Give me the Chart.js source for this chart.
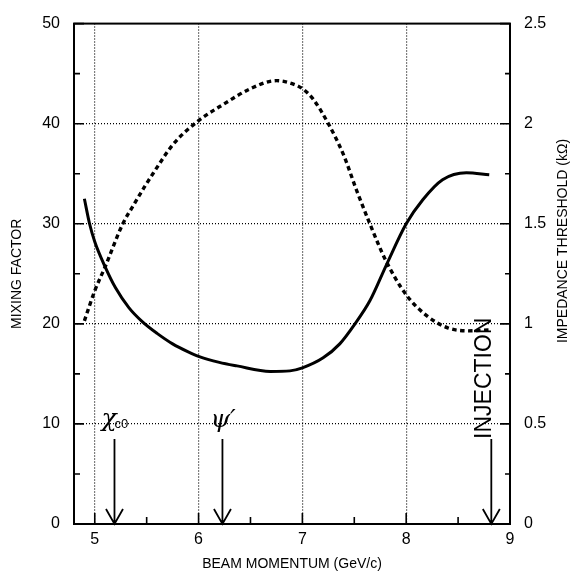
<!DOCTYPE html>
<html>
<head>
<meta charset="utf-8">
<script src="https://cdn.jsdelivr.net/npm/chart.js@4"></script>
<style>
  html, body { margin: 0; padding: 0; background: #fff; }
  #wrap { width: 572px; height: 579px; }
</style>
</head>
<body>
<div id="wrap"><canvas id="c" width="572" height="579"></canvas></div>
<script>
// Tick positions of the three axes
const momentumTicks = [5, 5.5, 6, 6.5, 7, 7.5, 8, 8.5, 9];
const mixingTicks = [0, 5, 10, 15, 20, 25, 30, 35, 40, 45, 50];
const thresholdTicks = [0, 0.25, 0.5, 0.75, 1, 1.25, 1.5, 1.75, 2, 2.25, 2.5];

// Mixing factor versus beam momentum (solid curve, left axis)
const mixMomentum = [4.90, 4.95, 5.00, 5.10, 5.20, 5.33, 5.46, 5.60, 5.75, 5.90, 6.00, 6.20, 6.37, 6.69, 6.88, 7.00, 7.20, 7.36, 7.50, 7.65, 7.81, 8.00, 8.16, 8.35, 8.58, 8.80];
const mixingFactor = [32.5, 30.0, 28.2, 25.7, 23.6, 21.6, 20.2, 19.05, 18.0, 17.2, 16.75, 16.15, 15.8, 15.25, 15.3, 15.6, 16.6, 18.0, 19.9, 22.3, 25.9, 30.0, 32.4, 34.4, 35.1, 34.9];

// Impedance threshold in kOhm versus beam momentum (dotted curve, right axis)
const thrMomentum = [4.90, 5.00, 5.10, 5.27, 5.37, 5.48, 5.56, 5.76, 6.00, 6.25, 6.50, 6.75, 6.90, 7.00, 7.10, 7.25, 7.40, 7.52, 7.65, 7.80, 8.00, 8.20, 8.40, 8.60, 8.80];
const impedanceThreshold = [1.015, 1.165, 1.285, 1.50, 1.59, 1.685, 1.75, 1.90, 2.015, 2.10, 2.175, 2.215, 2.20, 2.175, 2.125, 2.00, 1.84, 1.67, 1.50, 1.32, 1.145, 1.04, 0.98, 0.965, 0.97];

// Marked momenta: chi_c0, psi', injection
const markerMomentum = [5.19, 6.23, 8.82];
const markerTop = 8.5; // arrow start, mixing-factor units

Chart.defaults.font.family = "'Liberation Sans', Arial, Helvetica, sans-serif";
Chart.defaults.color = '#000';

const fixed = (list) => (s) => { s.ticks = list.map(v => ({ value: v })); };
const near = (a, b) => Math.abs(a - b) < 1e-6;

const decorations = {
  id: 'decorations',
  afterDatasetsDraw(chart) {
    const { ctx, chartArea: a, scales } = chart;
    const x = scales.x, y = scales.y, y2 = scales.y2;
    ctx.save();
    ctx.strokeStyle = '#000';
    ctx.fillStyle = '#000';

    // inward tick marks
    ctx.lineWidth = 1.6;
    ctx.beginPath();
    y.ticks.forEach(t => {
      const py = y.getPixelForValue(t.value);
      const len = near(t.value % 10, 0) ? 10 : 6;
      ctx.moveTo(a.left, py); ctx.lineTo(a.left + len, py);
    });
    y2.ticks.forEach(t => {
      const py = y2.getPixelForValue(t.value);
      const len = near(t.value * 2, Math.round(t.value * 2)) ? 10 : 5;
      ctx.moveTo(a.right, py); ctx.lineTo(a.right - len, py);
    });
    x.ticks.forEach(t => {
      const px = x.getPixelForValue(t.value);
      const len = Number.isInteger(t.value) ? 11 : 7;
      ctx.moveTo(px, a.bottom); ctx.lineTo(px, a.bottom - len);
    });
    ctx.stroke();

    // frame
    ctx.lineWidth = 2;
    ctx.strokeRect(a.left, a.top, a.width, a.height);

    // arrows
    ctx.lineWidth = 1.8;
    const yTop = y.getPixelForValue(markerTop);
    const yBot = y.getPixelForValue(0);
    markerMomentum.forEach(m => {
      const px = x.getPixelForValue(m);
      ctx.beginPath();
      ctx.moveTo(px, yTop); ctx.lineTo(px, yBot);
      ctx.moveTo(px - 8.5, yBot - 15); ctx.lineTo(px, yBot); ctx.lineTo(px + 8.5, yBot - 15);
      ctx.stroke();
    });

    // marker labels
    const base = yTop - 13;
    ctx.textBaseline = 'alphabetic';
    ctx.textAlign = 'left';
    let px = x.getPixelForValue(markerMomentum[0]);
    ctx.font = "italic 25px 'DejaVu Serif', 'Liberation Serif', serif";
    ctx.fillText('χ', px - 13, base);
    ctx.font = "13px 'Liberation Sans', Arial, sans-serif";
    ctx.fillText('c0', px + 0, base + 2);

    px = x.getPixelForValue(markerMomentum[1]);
    ctx.font = "italic 25px 'DejaVu Serif', 'Liberation Serif', serif";
    ctx.fillText('ψ′', px - 12, base + 1);

    px = x.getPixelForValue(markerMomentum[2]);
    ctx.save();
    ctx.translate(px - 7, yTop);
    ctx.rotate(-Math.PI / 2);
    ctx.textBaseline = 'middle';
    ctx.font = "23px 'Liberation Sans', Arial, sans-serif";
    ctx.fillText('INJECTION', 0, 0);
    ctx.restore();

    // right axis title
    ctx.save();
    ctx.translate(563, 241);
    ctx.rotate(-Math.PI / 2);
    ctx.textAlign = 'center';
    ctx.textBaseline = 'middle';
    ctx.font = "14px 'Liberation Sans', Arial, sans-serif";
    ctx.fillText('IMPEDANCE THRESHOLD (kΩ)', 0, 0);
    ctx.restore();

    ctx.restore();
  }
};

new Chart(document.getElementById('c'), {
  type: 'line',
  data: {
    datasets: [
      {
        label: 'MIXING FACTOR',
        data: mixMomentum.map((m, i) => ({ x: m, y: mixingFactor[i] })),
        yAxisID: 'y',
        borderColor: '#000',
        borderWidth: 3,
        pointRadius: 0,
        cubicInterpolationMode: 'monotone',
        fill: false
      },
      {
        label: 'IMPEDANCE THRESHOLD (kΩ)',
        data: thrMomentum.map((m, i) => ({ x: m, y: impedanceThreshold[i] })),
        yAxisID: 'y2',
        borderColor: '#000',
        borderWidth: 3.4,
        borderDash: [4.5, 3.5],
        borderCapStyle: 'butt',
        pointRadius: 0,
        cubicInterpolationMode: 'monotone',
        fill: false
      }
    ]
  },
  options: {
    responsive: false,
    devicePixelRatio: 1,
    animation: false,
    layout: { padding: { top: 14, left: 0, right: 0, bottom: 0 } },
    plugins: { legend: { display: false }, tooltip: { enabled: false } },
    scales: {
      x: {
        type: 'linear',
        position: 'bottom',
        min: 4.8,
        max: 9,
        afterBuildTicks: fixed(momentumTicks),
        afterFit: s => { s.height = 55; },
        border: { display: false, dash: [1, 2] },
        grid: {
          drawTicks: false,
          lineWidth: 1.2,
          color: c => (c.tick && Number.isInteger(c.tick.value) && c.tick.value < 9) ? '#000' : 'rgba(0,0,0,0)'
        },
        ticks: {
          autoSkip: false,
          maxRotation: 0,
          padding: 6,
          font: { size: 16 },
          callback: v => Number.isInteger(v) ? String(v) : ''
        },
        title: {
          display: true,
          text: 'BEAM MOMENTUM (GeV/c)',
          font: { size: 14 },
          padding: { top: 0, bottom: 6 }
        }
      },
      y: {
        type: 'linear',
        position: 'left',
        min: 0,
        max: 50,
        afterBuildTicks: fixed(mixingTicks),
        afterFit: s => { s.width = 74; },
        border: { display: false, dash: [1, 2] },
        grid: {
          drawTicks: false,
          lineWidth: 1.2,
          color: c => (c.tick && c.tick.value % 10 === 0 && c.tick.value > 0 && c.tick.value < 50) ? '#000' : 'rgba(0,0,0,0)'
        },
        ticks: {
          autoSkip: false,
          padding: 14,
          font: { size: 16 },
          callback: v => v % 10 === 0 ? String(v) : ''
        },
        title: {
          display: true,
          text: 'MIXING FACTOR',
          font: { size: 14 },
          padding: { top: 9, bottom: 0 }
        }
      },
      y2: {
        type: 'linear',
        position: 'right',
        min: 0,
        max: 2.5,
        afterBuildTicks: fixed(thresholdTicks),
        afterFit: s => { s.width = 62; },
        border: { display: false },
        grid: { drawOnChartArea: false, drawTicks: false },
        ticks: {
          autoSkip: false,
          padding: 14,
          font: { size: 16 },
          callback: v => near(v * 2, Math.round(v * 2)) ? String(v) : ''
        }
      }
    }
  },
  plugins: [decorations]
});
</script>
</body>
</html>
